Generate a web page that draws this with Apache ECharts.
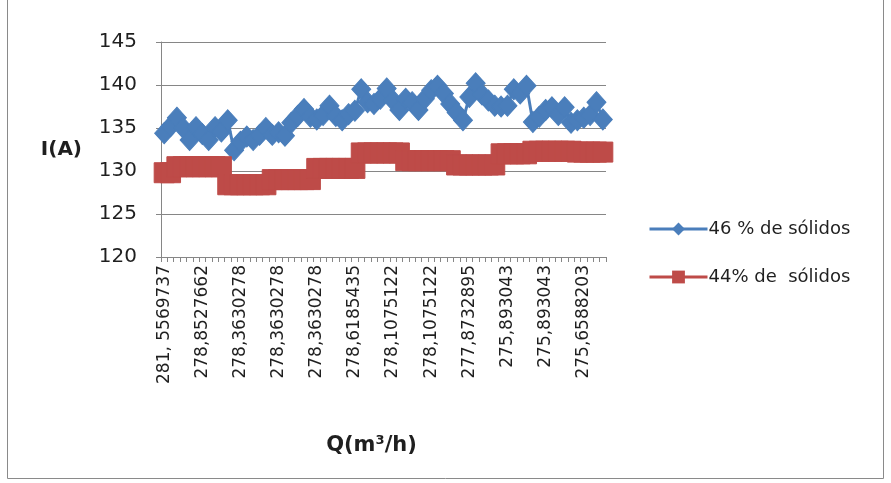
<!DOCTYPE html>
<html>
<head>
<meta charset="utf-8">
<script src="https://cdn.jsdelivr.net/npm/echarts@6/dist/echarts.min.js"></script>
<style>
  html, body { margin: 0; padding: 0; background: #fff; }
  #chart { width: 891px; height: 483px; }
</style>
</head>
<body>
<div id="chart"></div>
<script>
// Flow rate labels shown on the category axis (one every 6 readings)
const flowLabels = [
  '281, 5569737', '278,8527662', '278,3630278', '278,3630278',
  '278,3630278', '278,6185435', '278,1075122', '278,1075122',
  '277,8732895', '275,893043', '275,893043', '275,6588203'
];
const readingsPerLabel = 6;
const readingCount = 70;

// Current (A) at 46 % solids
const solids46 = [
  134.4, 135.2, 136.2, 135.0, 133.6, 135.1, 134.3, 133.6, 135.1, 134.6,
  135.9, 132.4, 133.4, 134.0, 133.6, 134.2, 135.0, 134.2, 134.5, 134.1,
  135.6, 136.4, 137.2, 136.3, 136.0, 136.5, 137.6, 136.4, 135.9, 136.6,
  137.0, 139.5, 138.0, 137.8, 138.4, 139.6, 138.2, 137.1, 138.4, 138.0,
  137.1, 138.4, 139.4, 139.9, 139.0, 137.8, 136.8, 135.9, 138.6, 140.2,
  138.9, 138.2, 137.6, 137.5, 137.6, 139.5, 139.0, 139.9, 135.7, 136.3,
  137.1, 137.4, 136.5, 137.4, 135.6, 135.9, 136.2, 136.5, 138.0, 136.0
];

// Current (A) at 44 % solids
const solids44 = [
  129.8, 129.8, 130.5, 130.5, 130.5, 130.5, 130.5, 130.5, 130.5, 130.5,
  128.4, 128.4, 128.4, 128.4, 128.4, 128.4, 128.4, 129.0, 129.0, 129.0,
  129.0, 129.0, 129.0, 129.0, 130.3, 130.3, 130.3, 130.3, 130.3, 130.3,
  130.3, 132.1, 132.1, 132.1, 132.1, 132.1, 132.1, 132.1, 131.2, 131.2,
  131.2, 131.2, 131.2, 131.2, 131.2, 131.2, 130.7, 130.7, 130.7, 130.7,
  130.7, 130.7, 130.7, 132.0, 132.0, 132.0, 132.0, 132.0, 132.3, 132.3,
  132.3, 132.3, 132.3, 132.3, 132.3, 132.2, 132.2, 132.2, 132.2, 132.2
];

const yTicks = { min: 120, max: 145, step: 5 };

// Category list: each labelled flow value covers a run of readings
const categories = [];
for (let i = 0; i < readingCount; i++) {
  categories.push(flowLabels[Math.floor(i / readingsPerLabel)]);
}

const FONT = 'DejaVu Sans';
const TEXT = '#1f1f1f';
const AXIS = '#868686';
const BLUE = '#4A7EBB';
const RED = '#BE4B48';

const chart = echarts.init(document.getElementById('chart'), null, { renderer: 'canvas' });
chart.setOption({
  animation: false,
  backgroundColor: '#ffffff',
  grid: { left: 161, top: 42, right: 285, bottom: 226, containLabel: false },
  legend: {
    orient: 'vertical',
    left: 643,
    top: 215,
    itemWidth: 58,
    itemHeight: 16,
    itemGap: 30,
    lineStyle: { width: 3 },
    textStyle: { fontFamily: FONT, fontSize: 18, color: TEXT, padding: [0, 0, 0, -4] },
    data: ['46 % de sólidos', '44% de  sólidos']
  },
  xAxis: {
    type: 'category',
    data: categories,
    boundaryGap: true,
    name: 'Q(m³/h)',
    nameLocation: 'middle',
    nameGap: 178,
    nameTextStyle: { fontFamily: FONT, fontSize: 21, fontWeight: 'bold', color: TEXT, padding: [0, 24, 0, 0] },
    axisLine: { lineStyle: { color: AXIS, width: 1 } },
    axisTick: { show: true, interval: 0, length: 5, lineStyle: { color: AXIS } },
    axisLabel: {
      interval: readingsPerLabel - 1,
      rotate: 90,
      margin: 8,
      fontFamily: FONT,
      fontSize: 17,
      color: TEXT
    },
    splitLine: { show: false }
  },
  yAxis: {
    type: 'value',
    min: yTicks.min,
    max: yTicks.max,
    interval: yTicks.step,
    name: 'I(A)',
    nameLocation: 'middle',
    nameRotate: 0,
    nameGap: 79,
    nameTextStyle: { fontFamily: FONT, fontSize: 20, fontWeight: 'bold', color: TEXT },
    axisLine: { show: true, lineStyle: { color: AXIS, width: 1 } },
    axisTick: { show: true, length: 5, lineStyle: { color: AXIS } },
    axisLabel: { margin: 24, fontFamily: FONT, fontSize: 20, color: TEXT },
    splitLine: { lineStyle: { color: AXIS, width: 1 } }
  },
  series: [
    {
      name: '46 % de sólidos',
      type: 'line',
      data: solids46,
      symbol: 'diamond',
      symbolSize: [19, 21],
      showAllSymbol: true,
      lineStyle: { color: BLUE, width: 3 },
      itemStyle: { color: BLUE, borderColor: BLUE }
    },
    {
      name: '44% de  sólidos',
      type: 'line',
      data: solids44,
      symbol: 'rect',
      symbolSize: 20,
      showAllSymbol: true,
      lineStyle: { color: RED, width: 3 },
      itemStyle: { color: RED, borderColor: RED }
    }
  ],
  graphic: [
    {
      type: 'rect',
      shape: { x: 7.5, y: -5, width: 876, height: 483.5 },
      style: { fill: 'none', stroke: '#8a8a8a', lineWidth: 1 },
      silent: true,
      z: -1
    }
  ]
});
</script>
</body>
</html>
